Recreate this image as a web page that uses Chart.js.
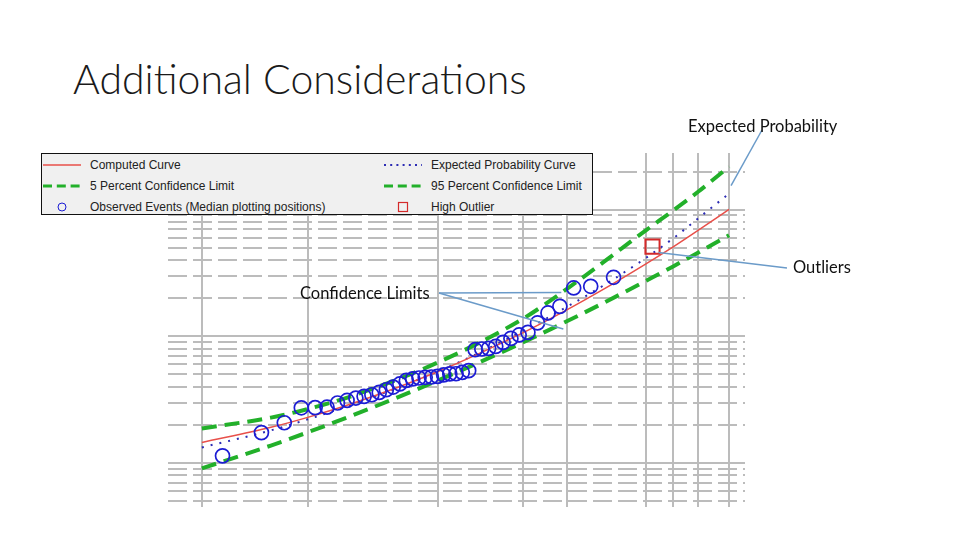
<!DOCTYPE html>
<html>
<head>
<meta charset="utf-8">
<script src="https://cdn.jsdelivr.net/npm/chart.js@4.4.1/dist/chart.umd.min.js"></script>
<style>
  body { margin: 0; width: 960px; height: 540px; position: relative; overflow: hidden; background: #fff; }
  #title { position: absolute; left: 73px; top: 54px; font-family: Lato, "Noto Sans", sans-serif; font-weight: 300; font-size: 41px; color: #1a1a1a; white-space: nowrap; }
  #chart { position: absolute; left: 0; top: 0; }
  #legend { position: absolute; left: 41px; top: 153px; width: 550px; height: 60px; background: #f0f0f0; border: 1px solid #111; font-family: "Liberation Sans", Arial, sans-serif; font-size: 12px; color: #222; }
  .item { position: absolute; height: 14px; line-height: 14px; white-space: nowrap; }
  .item svg { position: absolute; left: 0; top: 0; }
  .item span { position: absolute; left: 47px; top: 0; }
  .note { position: absolute; font-family: Lato, "Noto Sans", sans-serif; font-size: 16.5px; color: #111; white-space: nowrap; line-height: 18px; }
</style>
</head>
<body>
<div id="title">Additional Considerations</div>
<canvas id="chart" width="960" height="540"></canvas>
<div id="legend"></div>
<script>
// Data (exceedance probability as a fraction, flow)
const probTicks = [0.99, 0.9, 0.5, 0.2, 0.1, 0.02, 0.01, 0.005, 0.002];
const curveProb = [0.99, 0.95, 0.9, 0.8, 0.5, 0.2, 0.1, 0.05, 0.02, 0.01, 0.005, 0.002];
const computedFlow = [1455, 1915, 2295, 2950, 5260, 10660, 16250, 23660, 37150, 50800, 68860, 100700];
const expectedFlow = [1328, 1811, 2214, 2897, 5260, 10990, 17170, 25410, 41370, 59330, 85660, 133600];
const upperFlow = [1877, 2284, 2670, 3388, 6200, 13750, 23820, 38900, 68390, 98400, 139000, 218900];
const lowerFlow = [907, 1375, 1748, 2373, 4467, 8950, 13210, 18460, 27340, 35660, 45920, 62790];

const obsProb = [0.0411, 0.0652, 0.0894, 0.1135, 0.1377, 0.1618, 0.186, 0.2101, 0.2343, 0.2585,
  0.2826, 0.3068, 0.3309, 0.3551, 0.3792, 0.4034, 0.4275, 0.4517, 0.4758, 0.5,
  0.5242, 0.5483, 0.5725, 0.5966, 0.6208, 0.6449, 0.6691, 0.6932, 0.7174, 0.7415,
  0.7657, 0.7899, 0.814, 0.8382, 0.8623, 0.8865, 0.9106, 0.9348, 0.9589, 0.9831];
const obsFlow = [29240, 24830, 24110, 17260, 15300, 12760, 10760, 10260, 9640, 8970,
  8340, 8040, 7950, 7850, 5360, 5200, 5070, 5050, 4960, 4830,
  4780, 4750, 4690, 4610, 4490, 4210, 3980, 3790, 3610, 3460,
  3360, 3260, 3120, 2980, 2760, 2740, 2730, 2080, 1740, 1140];
const outlierProb = [0.0169];
const outlierFlow = [51100];

// normal quantile (Acklam) for the probability axis
function normInv(p) {
  const a = [-39.69683028665376, 220.9460984245205, -275.9285104469687, 138.357751867269, -30.66479806614716, 2.506628277459239];
  const b = [-54.47609879822406, 161.5858368580409, -155.6989798598866, 66.80131188771972, -13.28068155288572];
  const c = [-0.007784894002430293, -0.3223964580411365, -2.400758277161838, -2.549732539343734, 4.374664141464968, 2.938163982698783];
  const d = [0.007784695709041462, 0.3224671290700398, 2.445134137142996, 3.754408661907416];
  const pl = 0.02425;
  let q, r;
  if (p < pl) {
    q = Math.sqrt(-2 * Math.log(p));
    return (((((c[0]*q+c[1])*q+c[2])*q+c[3])*q+c[4])*q+c[5]) / ((((d[0]*q+d[1])*q+d[2])*q+d[3])*q+1);
  }
  if (p > 1 - pl) {
    q = Math.sqrt(-2 * Math.log(1 - p));
    return -(((((c[0]*q+c[1])*q+c[2])*q+c[3])*q+c[4])*q+c[5]) / ((((d[0]*q+d[1])*q+d[2])*q+d[3])*q+1);
  }
  q = p - 0.5; r = q * q;
  return (((((a[0]*r+a[1])*r+a[2])*r+a[3])*r+a[4])*r+a[5])*q / (((((b[0]*r+b[1])*r+b[2])*r+b[3])*r+b[4])*r+1);
}
function normCdf(z) {
  const t = 1 / (1 + 0.2316419 * Math.abs(z));
  const y = 0.3989423 * Math.exp(-z * z / 2) * t * (0.3193815 + t * (-0.3565638 + t * (1.781478 + t * (-1.821256 + t * 1.330274))));
  return z > 0 ? 1 - y : y;
}

// exceedance probability scale: large probabilities on the left
class ProbabilityScale extends Chart.Scale {
  determineDataLimits() {
    this.min = this.options.min;
    this.max = this.options.max;
  }
  buildTicks() {
    return probTicks.map(v => ({ value: v }));
  }
  getLabelForValue(v) {
    return (v * 100) + '%';
  }
  configure() {
    super.configure();
    this._zLeft = normInv(1 - this.max);
    this._zRight = normInv(1 - this.min);
  }
  getPixelForValue(v) {
    return this.getPixelForDecimal((normInv(1 - v) - this._zLeft) / (this._zRight - this._zLeft));
  }
  getValueForPixel(px) {
    return 1 - normCdf(this._zLeft + this.getDecimalForPixel(px) * (this._zRight - this._zLeft));
  }
}
ProbabilityScale.id = 'probability';
ProbabilityScale.defaults = {};
Chart.register(ProbabilityScale);

const pts = (xs, ys) => xs.map((x, i) => ({ x: x, y: ys[i] }));
const isDecade = v => Math.abs(Math.log10(v) - Math.round(Math.log10(v))) < 1e-9;

const RED = "#e8504a", BLUE = "#2c2cb4", GREEN = "#22b02a", MARK = "#1c1cd4", OUT = "#d42a2a";

const datasets = [
  { label: "Computed Curve", type: "line", data: pts(curveProb, computedFlow), borderColor: RED, borderWidth: 1.5, pointRadius: 0, cubicInterpolationMode: "monotone", order: 2 },
  { label: "Expected Probability Curve", type: "line", data: pts(curveProb, expectedFlow), borderColor: BLUE, borderWidth: 2, borderDash: [2, 7], pointRadius: 0, cubicInterpolationMode: "monotone", order: 3 },
  { label: "5 Percent Confidence Limit", type: "line", data: pts(curveProb, upperFlow), borderColor: GREEN, borderWidth: 4, borderDash: [15, 8], pointRadius: 0, cubicInterpolationMode: "monotone", order: 4 },
  { label: "95 Percent Confidence Limit", type: "line", data: pts(curveProb, lowerFlow), borderColor: GREEN, borderWidth: 4, borderDash: [15, 8], pointRadius: 0, cubicInterpolationMode: "monotone", order: 5 },
  { label: "Observed Events (Median plotting positions)", type: "scatter", data: pts(obsProb, obsFlow), borderColor: MARK, backgroundColor: "rgba(0,0,0,0)", borderWidth: 1.7, pointRadius: 7, order: 0 },
  { label: "High Outlier", type: "scatter", data: pts(outlierProb, outlierFlow), borderColor: OUT, backgroundColor: "rgba(0,0,0,0)", borderWidth: 2, pointRadius: 10, pointStyle: "rect", order: 1 },
];

// callouts: text box and which marks the line points to
const notes = [
  { text: "Expected Probability", left: 688, top: 117, from: [762, 130], to: [[1, 11, 2, -8]] },
  { text: "Outliers", left: 793, top: 258, from: [787, 268], to: [[5, 0, 6, 6]] },
  { text: "Confidence Limits", left: 300, top: 284, from: [439, 293], to: [[2, 6, -6, 4], [3, 6, -4, 8]] },
];

const calloutPlugin = {
  id: "callouts",
  afterDraw(chart) {
    const ctx = chart.ctx;
    ctx.save();
    ctx.strokeStyle = "#6b9bc9";
    ctx.lineWidth = 1.5;
    notes.forEach(n => {
      n.to.forEach(t => {
        const p = chart.getDatasetMeta(t[0]).data[t[1]];
        ctx.beginPath();
        ctx.moveTo(n.from[0], n.from[1]);
        ctx.lineTo(p.x + t[2], p.y + t[3]);
        ctx.stroke();
      });
    });
    ctx.restore();
  }
};

new Chart("chart", {
  data: { datasets: datasets },
  options: {
    responsive: false,
    animation: false,
    events: [],
    layout: { padding: { left: 168, right: 215, top: 153, bottom: 33 } },
    plugins: { legend: { display: false }, tooltip: { enabled: false } },
    scales: {
      x: {
        type: "probability",
        min: 0.0012,
        max: 0.9961,
        ticks: { display: false },
        grid: { color: "#bcbcbc", lineWidth: 2, drawTicks: false },
        border: { display: false },
      },
      y: {
        type: "logarithmic",
        min: 450,
        max: 280000,
        ticks: { display: false },
        afterBuildTicks: (scale) => {
          const t = [];
          for (let e = 2; e <= 5; e++) {
            for (let m = 1; m <= 9; m++) {
              const v = m * Math.pow(10, e);
              if (v >= scale.min && v <= scale.max) t.push({ value: v });
            }
          }
          scale.ticks = t;
        },
        grid: { color: "#bcbcbc", lineWidth: 2, drawTicks: false },
        border: { display: false, dash: (c) => (c.tick && isDecade(c.tick.value)) ? [] : [19, 6] },
      },
    },
  },
  plugins: [calloutPlugin],
});

// legend built from dataset styles
const legendPos = [[0, 1, 4], [1, 342, 4], [2, 1, 25], [3, 342, 25], [4, 1, 46], [5, 342, 46]];
const legend = document.getElementById("legend");
legendPos.forEach(([i, left, top]) => {
  const ds = datasets[i];
  let sym;
  if (ds.type === "line") {
    const dash = ds.borderDash ? ds.borderDash.map(v => Math.max(v * 0.6, 2)).join(",") : "";
    const w = Math.min(ds.borderWidth, 3);
    sym = `<line x1="0" y1="7" x2="38" y2="7" stroke="${ds.borderColor}" stroke-width="${w}" stroke-dasharray="${dash}"/>`;
  } else if (ds.pointStyle === "rect") {
    sym = `<rect x="14.5" y="2.5" width="9" height="9" fill="none" stroke="${ds.borderColor}" stroke-width="1.2"/>`;
  } else {
    sym = `<circle cx="19" cy="7" r="4" fill="none" stroke="${ds.borderColor}" stroke-width="1"/>`;
  }
  const el = document.createElement("div");
  el.className = "item";
  el.style.left = left + "px";
  el.style.top = top + "px";
  el.innerHTML = `<svg width="40" height="14">${sym}</svg><span>${ds.label}</span>`;
  legend.appendChild(el);
});

notes.forEach(n => {
  const el = document.createElement("div");
  el.className = "note";
  el.style.left = n.left + "px";
  el.style.top = n.top + "px";
  el.textContent = n.text;
  document.body.appendChild(el);
});
</script>
</body>
</html>
